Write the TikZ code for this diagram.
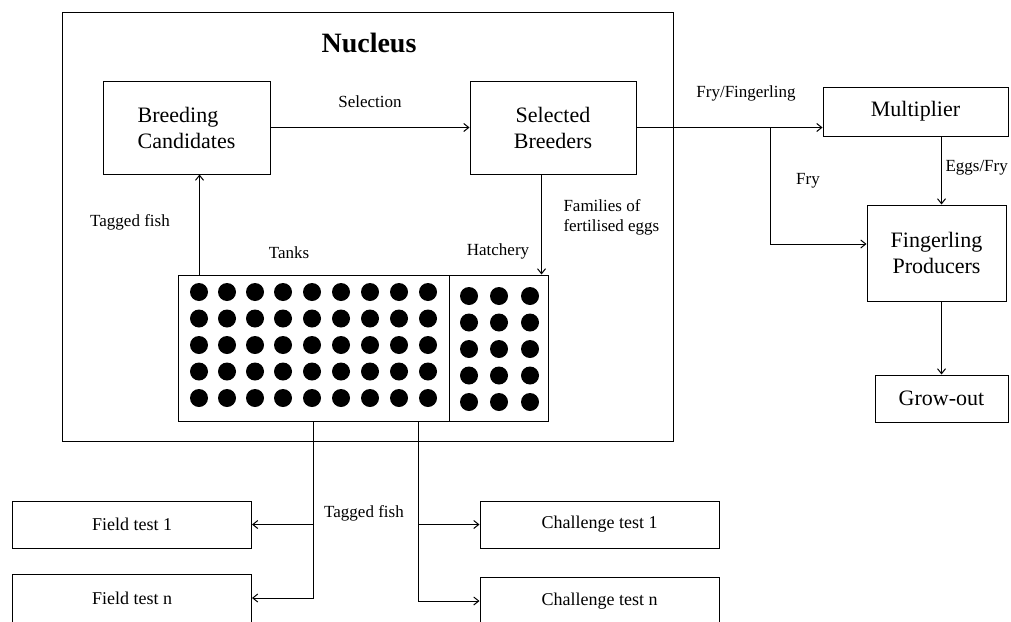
\documentclass[tikz,border=0pt]{standalone}
\usepackage{fontspec}
\setmainfont{Liberation Serif}
\usetikzlibrary{arrows.meta}
\begin{document}
\begin{tikzpicture}[x=1pt, y=-1pt, line width=1pt,
    >={Straight Barb[length=5pt,width=8pt]},
    box/.style = {shape=rectangle, draw, align=center, inner sep=0pt,
      font=\fontsize{22}{26}\selectfont},
    testbox/.style = {box, minimum width=239, font=\fontsize{18}{22}\selectfont},
    lbl/.style = {inner sep=0pt, align=left, font=\fontsize{17}{20}\selectfont},
    dot/.style = {shape=circle, fill, inner sep=0pt, minimum size=18}]
  \clip (0,0) rectangle (1011,621);
  % nucleus
  \node[draw, minimum width=611, minimum height=429] (nucleus) at (368,226.5) {};
  \node[font=\bfseries\fontsize{28}{32}\selectfont] (title) at (369,43) {Nucleus};
  \node[box, minimum width=167, minimum height=93, align=left] (cand) at (186.5,127.5) {Breeding\\Candidates};
  \node[box, minimum width=166, minimum height=93] (breeders) at (553,127.5) {Selected\\Breeders};
  \node[draw, minimum width=271, minimum height=146] (tanks) at (313.5,348) {};
  \node[draw, minimum width=99, minimum height=146] (hatch) at (498.5,348) {};
  \foreach \x [count=\i] in {199,227,255,283,312,341,370,399,428}
    \foreach \j in {0,...,4}
      \node[dot] (t\i-\j) at (\x,292+26.5*\j) {};
  \foreach \x [count=\i] in {469,499,530}
    \foreach \j in {0,...,4}
      \node[dot] (h\i-\j) at (\x,296+26.5*\j) {};
  \node[lbl] (sellbl) at (370,102) {Selection};
  \node[lbl] (tag1lbl) at (130,222) {Tagged fish};
  \node[lbl] (tanklbl) at (289,253) {Tanks};
  \node[lbl] (hatchlbl) at (498,251) {Hatchery};
  \node[lbl, anchor=west] (famlbl) at (563,217) {Families of\\fertilised eggs};
  % outside the nucleus
  \node[lbl] (fryfinglbl) at (746,93) {Fry/Fingerling};
  \node[lbl] (frylbl) at (808,181) {Fry};
  \node[lbl, anchor=west] (eggslbl) at (945,168) {Eggs/Fry};
  \node[box, minimum width=185, minimum height=49] (mult) at (915.5,111.5) {Multiplier};
  \node[box, minimum width=139, minimum height=96] (fing) at (936.5,253) {Fingerling\\Producers};
  \node[box, minimum width=133, minimum height=47] (grow) at (941.5,398.5) {Grow-out};
  % tests
  \node[lbl] (tag2lbl) at (364,513) {Tagged fish};
  \node[testbox, minimum height=47] (field1) at (132,524.5) {Field test 1};
  \node[testbox, minimum height=48] (fieldn) at (132,598) {Field test n};
  \node[testbox, minimum height=47] (chal1) at (599.5,524.5) {Challenge test 1};
  \node[testbox, minimum height=48] (chaln) at (599.5,601) {Challenge test n};
  \coordinate (split) at (770,127.5);
  \coordinate (out) at ([xshift=-31pt]tanks.south east);
  % connectors
  \draw[->] (cand) -- (breeders);
  \draw[->] ([xshift=22pt]tanks.north west) -- ([xshift=22pt]tanks.north west |- cand.south);
  \draw[->] ([xshift=-7pt]hatch.north east |- breeders.south) -- ([xshift=-7pt]hatch.north east);
  \draw[->] (breeders.east) -- (breeders.east -| mult.west);
  \draw[->] (split) |- ([yshift=9pt]fing.west);
  \draw[->] (mult.south -| grow.north) -- (fing.north -| grow.north);
  \draw[->] (fing.south -| grow.north) -- (grow.north);
  \draw[->] (tanks.south) |- (field1.east);
  \draw[->] (tanks.south) |- (fieldn.east);
  \draw[->] (out) |- (chal1.west);
  \draw[->] (out) |- (chaln.west);
\end{tikzpicture}
\end{document}
